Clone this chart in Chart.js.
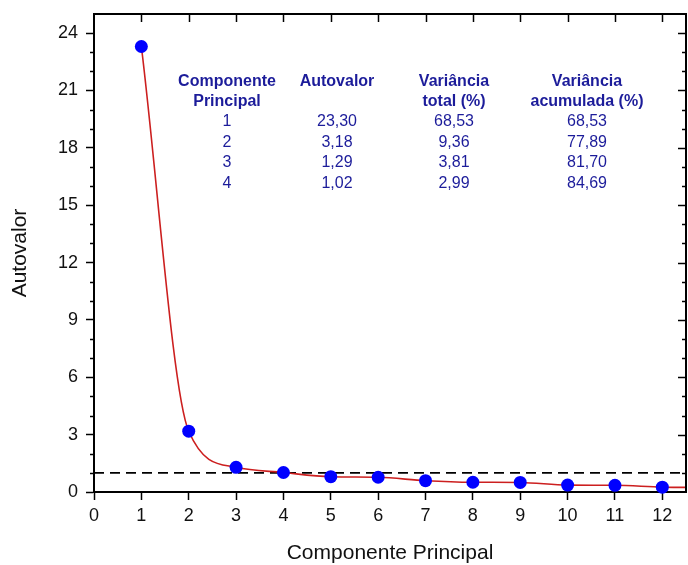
<!DOCTYPE html>
<html>
<head>
<meta charset="utf-8">
<script src="https://cdn.jsdelivr.net/npm/chart.js@4/dist/chart.umd.min.js"></script>
<style>
  html, body { margin: 0; padding: 0; background: #ffffff; }
  #wrap { width: 688px; height: 565px; }
</style>
</head>
<body>
<div id="wrap"><canvas id="c" width="688" height="565"></canvas></div>
<script>
// ---- data ----
const components = [1, 2, 3, 4, 5, 6, 7, 8, 9, 10, 11, 12];
const eigenvalues = [23.30, 3.18, 1.29, 1.02, 0.80, 0.77, 0.59, 0.51, 0.50, 0.36, 0.35, 0.25];
const curveTailX = [12.5];
const curveTailY = [0.24];
const kaiserX = [0, 12.5];
const kaiserY = [1, 1];

const tableHeaders = [["Componente", "Principal"], ["Autovalor"], ["Variância", "total (%)"], ["Variância", "acumulada (%)"]];
const tableComponent = ["1", "2", "3", "4"];
const tableEigen = ["23,30", "3,18", "1,29", "1,02"];
const tableVarTotal = ["68,53", "9,36", "3,81", "2,99"];
const tableVarCum = ["68,53", "77,89", "81,70", "84,69"];

const xTitle = "Componente Principal";
const yTitle = "Autovalor";

// ---- build ----
const pts = components.map((x, i) => ({ x: x, y: eigenvalues[i] }));
const curvePts = pts.concat(curveTailX.map((x, i) => ({ x: x, y: curveTailY[i] })));
const kaiserPts = kaiserX.map((x, i) => ({ x: x, y: kaiserY[i] }));

const FONT = "Arial, 'Liberation Sans', sans-serif";
const TABLE_COLOR = "#1c1c9a";

const framePlugin = {
  id: 'frame',
  afterDraw(chart) {
    const ctx = chart.ctx;
    const a = chart.chartArea;
    const xs = chart.scales.x, ys = chart.scales.y;
    ctx.save();
    ctx.strokeStyle = '#000';
    ctx.lineWidth = 2;
    ctx.beginPath();
    ctx.moveTo(a.left, a.top); ctx.lineTo(a.right, a.top); ctx.lineTo(a.right, a.bottom);
    ctx.stroke();
    ctx.lineWidth = 1.5;
    for (let v = 1; v <= 12; v++) {
      const px = Math.round(xs.getPixelForValue(v)) + 0.5;
      ctx.beginPath(); ctx.moveTo(px, a.top); ctx.lineTo(px, a.top + 8); ctx.stroke();
    }
    for (let v = 1; v <= 24; v++) {
      const py = Math.round(ys.getPixelForValue(v)) + 0.5;
      const major = v % 3 === 0;
      if (!major) {
        ctx.beginPath(); ctx.moveTo(a.left, py); ctx.lineTo(a.left - 4, py); ctx.stroke();
      }
      const len = major ? 8 : 4;
      ctx.beginPath(); ctx.moveTo(a.right, py); ctx.lineTo(a.right - len, py); ctx.stroke();
    }
    const cols = [133, 243, 360, 493];
    const rows = [68, 88, 108, 129, 149, 170];
    ctx.fillStyle = TABLE_COLOR;
    ctx.textAlign = 'center';
    ctx.textBaseline = 'middle';
    ctx.font = "bold 16px " + FONT;
    tableHeaders.forEach((lines, c) => {
      lines.forEach((t, r) => ctx.fillText(t, a.left + cols[c], a.top + rows[r]));
    });
    ctx.font = "16px " + FONT;
    [tableComponent, tableEigen, tableVarTotal, tableVarCum].forEach((col, c) => {
      col.forEach((t, r) => ctx.fillText(t, a.left + cols[c], a.top + rows[r + 2]));
    });
    ctx.restore();
  }
};

function zeroPad(s) { s.paddingTop = 0; s.paddingBottom = 0; s.paddingLeft = 0; s.paddingRight = 0; }

new Chart(document.getElementById('c'), {
  type: 'line',
  data: {
    datasets: [
      {
        data: pts, showLine: false, pointRadius: 6.5, pointHoverRadius: 6.5,
        pointBackgroundColor: '#0000ff', pointBorderColor: '#0000ff', pointBorderWidth: 0,
        order: 0
      },
      {
        data: curvePts, borderColor: '#cc1f1f', borderWidth: 1.6, pointRadius: 0,
        cubicInterpolationMode: 'monotone', fill: false, order: 1
      },
      {
        data: kaiserPts, borderColor: '#000', borderWidth: 1.6, borderDash: [10, 6],
        pointRadius: 0, fill: false, order: 2
      }
    ]
  },
  options: {
    responsive: false,
    animation: false,
    devicePixelRatio: 1,
    clip: false,
    layout: { autoPadding: false, padding: { top: 14, right: 2, left: 0, bottom: 0 } },
    plugins: { legend: { display: false }, tooltip: { enabled: false } },
    scales: {
      x: {
        type: 'linear', min: 0, max: 12.5,
        afterFit(s) { s.height = 73; zeroPad(s); },
        ticks: { stepSize: 1, includeBounds: false, color: '#111', font: { family: FONT, size: 18 }, padding: 5, maxRotation: 0 },
        grid: { drawOnChartArea: false, drawTicks: true, tickLength: 8, tickColor: '#000', tickWidth: 1.5, color: '#000' },
        border: { display: true, color: '#000', width: 2 },
        title: { display: true, text: xTitle, color: '#111', font: { family: FONT, size: 21, lineHeight: 1 }, padding: { top: 0, bottom: 1 } }
      },
      y: {
        type: 'linear', min: 0, max: 25,
        afterFit(s) { s.width = 94; zeroPad(s); },
        ticks: { stepSize: 3, includeBounds: false, color: '#111', font: { family: FONT, size: 18 }, padding: 8 },
        grid: { drawOnChartArea: false, drawTicks: true, tickLength: 8, tickColor: '#000', tickWidth: 1.5, color: '#000' },
        border: { display: true, color: '#000', width: 2 },
        title: { display: true, text: yTitle, color: '#111', font: { family: FONT, size: 21, lineHeight: 1 }, padding: { top: 10, bottom: 0 } }
      }
    }
  },
  plugins: [framePlugin]
});
</script>
</body>
</html>
